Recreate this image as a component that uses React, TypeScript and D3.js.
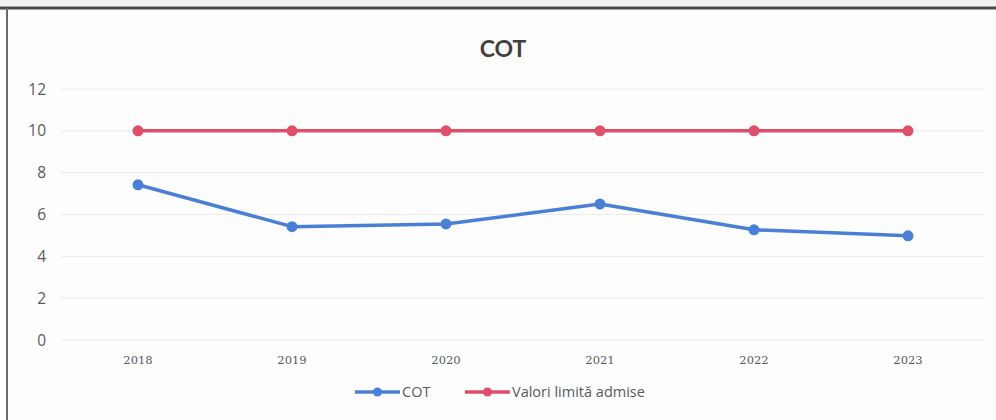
import React from "react";
import * as d3 from "d3";

const years = ["2018", "2019", "2020", "2021", "2022", "2023"];
const cotValues = [7.42, 5.42, 5.55, 6.5, 5.27, 4.98];
const limitValues = [10, 10, 10, 10, 10, 10];
const yTicks = [0, 2, 4, 6, 8, 10, 12];
const seriesNames = ["COT", "Valori limită admise"];

const W = 996;
const H = 420;
const font = "'Open Sans', 'Noto Sans', sans-serif";

export default function App() {
  const x = d3.scaleBand<string>().domain(years).range([61, 985]);
  const y = d3.scaleLinear().domain([0, 12]).range([340, 89]);
  const line = d3
    .line<number>()
    .x((_, i) => (x(years[i]) ?? 0) + x.bandwidth() / 2)
    .y((d) => y(d));
  const blue = "#4a7fd6";
  const red = "#de4f6a";
  const series = [
    { name: seriesNames[0], values: cotValues, color: blue },
    { name: seriesNames[1], values: limitValues, color: red },
  ];
  return (
    <svg
      width={W}
      height={H}
      style={{ position: "absolute", left: 0, top: 0, background: "#fdfdfd" }}
    >
      <rect x={0} y={0} width={W} height={H} fill="#fdfdfd" />
      <rect x={0} y={0} width={W} height={6} fill="#f2f2f2" />
      <line x1={0} x2={W} y1={8} y2={8} stroke="#4a4a4a" strokeWidth={3} />
      <line x1={7} x2={7} y1={8} y2={H} stroke="#6a6a6a" strokeWidth={2} />
      <text
        x={503}
        y={57}
        textAnchor="middle"
        fontFamily="Lato, 'Open Sans', sans-serif"
        fontSize={23}
        fontWeight="bold"
        fill="#404040"
      >
        COT
      </text>
      {yTicks.map((t) => (
        <g key={t}>
          <line
            x1={61}
            x2={985}
            y1={y(t)}
            y2={y(t)}
            stroke="#ececec"
            strokeWidth={1.2}
          />
          <text
            x={46}
            y={y(t) + 5.5}
            textAnchor="end"
            fontFamily={font}
            fontSize={15.5}
            fill="#595959"
          >
            {t}
          </text>
        </g>
      ))}
      {years.map((yr) => (
        <text
          key={yr}
          x={(x(yr) ?? 0) + x.bandwidth() / 2}
          y={364}
          textAnchor="middle"
          fontFamily="'DejaVu Serif', serif"
          fontSize={11.5}
          fill="#595959"
        >
          {yr}
        </text>
      ))}
      {series.map((s) => (
        <g key={s.name}>
          <path
            d={line(s.values) ?? ""}
            fill="none"
            stroke={s.color}
            strokeWidth={3.5}
            strokeLinejoin="round"
          />
          {s.values.map((v, i) => (
            <circle
              key={i}
              cx={(x(years[i]) ?? 0) + x.bandwidth() / 2}
              cy={y(v)}
              r={5.5}
              fill={s.color}
            />
          ))}
        </g>
      ))}
      {series.map((s, i) => {
        const lx = i === 0 ? 355 : 465;
        return (
          <g key={s.name}>
            <line
              x1={lx}
              x2={lx + 45}
              y1={392}
              y2={392}
              stroke={s.color}
              strokeWidth={3.5}
            />
            <circle cx={lx + 22.5} cy={392} r={4.5} fill={s.color} />
            <text
              x={lx + 47}
              y={397}
              fontFamily={font}
              fontSize={14.5}
              fill="#595959"
            >
              {s.name}
            </text>
          </g>
        );
      })}
    </svg>
  );
}
